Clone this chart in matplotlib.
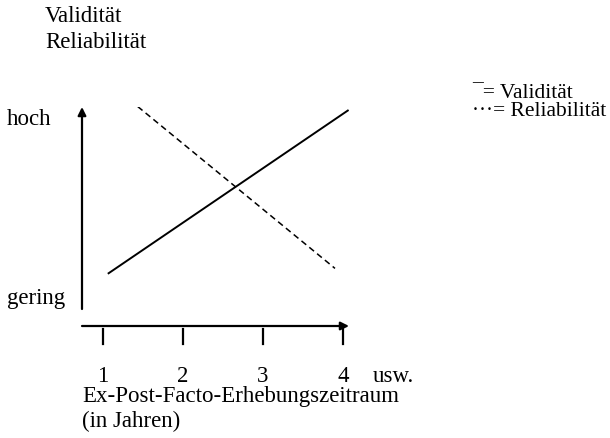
import matplotlib
matplotlib.use("Agg")
import matplotlib.pyplot as plt
import matplotlib.transforms as mtransforms

plt.rcParams['font.family'] = ['Liberation Serif', 'DejaVu Serif']

# data (x in Jahren, y: 0 = gering, 1 = hoch)
years = [1, 2, 3, 4]
year_labels = ['1', '2', '3', '4']
validitaet_x = [1.06, 4.07]
validitaet_y = [0.14, 1.05]
reliabilitaet_x = [1.24, 3.90]
reliabilitaet_y = [1.14, 0.17]

W, H = 610, 439
fig = plt.figure(figsize=(W / 100, H / 100), dpi=100)

def fx(px):
    return px / W

def fy(py):
    return 1 - py / H

# axes spanning from y spine (x=82) to arrow end, x axis (y=327) to arrow tip
ax = fig.add_axes([fx(82), fy(327), fx(349) - fx(82), fy(108) - fy(327)])
ax.set_xlim(1 - 21 / 80, 1 + 246 / 80)
ax.set_ylim((300 - 327) / 180, (300 - 108) / 180)
ax.axis('off')

ax.plot(validitaet_x, validitaet_y, color='black', linewidth=1.4, solid_capstyle='butt')
ax.plot(reliabilitaet_x, reliabilitaet_y, color='black', linewidth=1.1,
        linestyle=(0, (4, 2.6)))

# axes arrows
ax.annotate('', xy=(0, 1), xytext=(0, 17 / 219), xycoords='axes fraction',
            arrowprops=dict(arrowstyle='-|>', color='black', lw=1.6,
                            mutation_scale=12, shrinkA=0, shrinkB=0))
ax.annotate('', xy=(1, 0), xytext=(0, 0), xycoords='axes fraction',
            arrowprops=dict(arrowstyle='-|>', color='black', lw=1.6,
                            mutation_scale=12, shrinkA=0, shrinkB=0))

fs = 16.5

# ticks and labels below the x axis
trans = mtransforms.blended_transform_factory(ax.transData, ax.transAxes)
for yr, lab in zip(years, year_labels):
    top = 0 if yr == years[-1] else -3 / 219
    ax.plot([yr, yr], [top, -18 / 219], color='black', linewidth=1.6,
            transform=trans, clip_on=False)
    ax.text(yr, -50 / 219, lab, transform=trans, ha='center', va='center',
            fontsize=fs)

fig.text(fx(45), fy(17), 'Validität', fontsize=fs, va='center', ha='left')
fig.text(fx(45), fy(42), 'Reliabilität', fontsize=fs, va='center', ha='left')
fig.text(fx(7), fy(120), 'hoch', fontsize=fs, va='center', ha='left')
fig.text(fx(7), fy(299), 'gering', fontsize=fs, va='center', ha='left')
fig.text(fx(373), fy(377), 'usw.', fontsize=fs, va='center', ha='left')
fig.text(fx(82), fy(397), 'Ex-Post-Facto-Erhebungszeitraum', fontsize=fs,
         va='center', ha='left')
fig.text(fx(82), fy(421), '(in Jahren)', fontsize=fs, va='center', ha='left')

fig.text(fx(472), fy(93), '¯= Validität', fontsize=15.5, va='center', ha='left')
fig.text(fx(472), fy(112), '···= Reliabilität', fontsize=15.5, va='center', ha='left')

fig.savefig('out.png', dpi=100, facecolor='white')
